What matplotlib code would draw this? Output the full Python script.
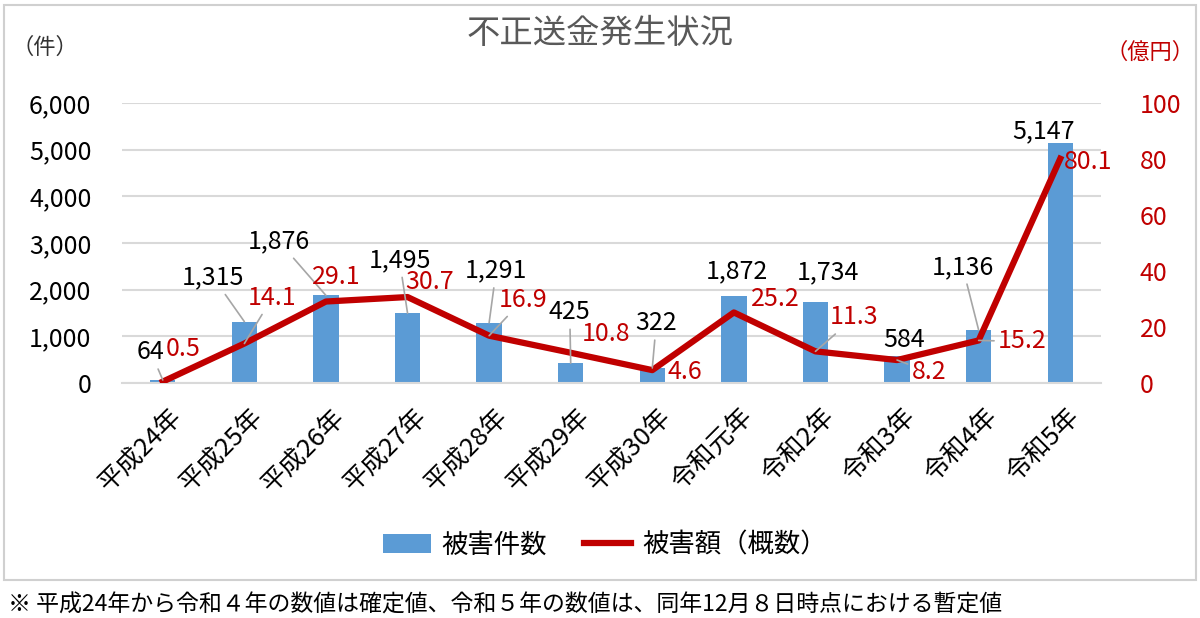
import matplotlib
matplotlib.use("Agg")
import matplotlib.pyplot as plt
from matplotlib.patches import Rectangle
from matplotlib.lines import Line2D
from matplotlib.patches import Patch
import matplotlib.transforms as mtrans

plt.rcParams['font.family'] = ['Noto Sans CJK JP', 'DejaVu Sans']

categories = ["平成24年", "平成25年", "平成26年", "平成27年", "平成28年", "平成29年",
              "平成30年", "令和元年", "令和2年", "令和3年", "令和4年", "令和5年"]
cases = [64, 1315, 1876, 1495, 1291, 425, 322, 1872, 1734, 584, 1136, 5147]
amount = [0.5, 14.1, 29.1, 30.7, 16.9, 10.8, 4.6, 25.2, 11.3, 8.2, 15.2, 80.1]
left_ticks = [0, 1000, 2000, 3000, 4000, 5000, 6000]
right_ticks = [0, 20, 40, 60, 80, 100]

# label offsets (pixels) and leader flags
case_off = [(-12, 28, True), (-31, 44, True), (-47, 54, True), (-8, 53, True), (7, 52, True),
            (-1, 51, True), (4, 45, True), (3, 24, False), (12, 30, False), (7, 16, False),
            (-16, 63, True), (-17, 12, False)]
amt_off = [(20, 33, False), (28, 46, True), (10, 25, False), (22, 15, False), (34, 36, True),
           (35, 19, False), (33, -2, False), (41, 13, False), (39, 34, True), (32, -12, True),
           (44, -1, True), (28, -3, False)]

BLUE = "#5B9BD5"
RED = "#C00000"
GRID = "#D9D9D9"

fig = plt.figure(figsize=(12, 6.18), dpi=100)
fig.patch.set_facecolor("white")

# outer border
fig.patches.append(Rectangle((4/1200, 1-580/618), 1192/1200, 575/618, transform=fig.transFigure,
                             fill=False, edgecolor="#D0D0D0", linewidth=1.5))

ax = fig.add_axes([122/1200, 1-383/618, (1101-122)/1200, (383-103)/618])
ax2 = ax.twinx()

x = list(range(len(categories)))
ax.bar(x, cases, width=0.31, color=BLUE, zorder=2)
ax.set_xlim(-0.5, len(categories)-0.5)
ax.set_ylim(0, 6000)
ax.set_yticks(left_ticks)
ax.set_yticklabels([f"{v:,}" for v in left_ticks], fontsize=18, color="black")
ax.yaxis.grid(True, color=GRID, linewidth=1.5, zorder=0)
ax.set_axisbelow(True)
for s in ["top", "left", "right"]:
    ax.spines[s].set_visible(False)
ax.spines["bottom"].set_color(GRID)
ax.spines["bottom"].set_linewidth(1.5)
ax.tick_params(axis="y", length=0, pad=22)
ax.tick_params(axis="x", length=0, pad=15)
ax.set_xticks(x)
ax.set_xticklabels(categories, rotation=45, ha="right", va="top", fontsize=18.5)
offset = mtrans.ScaledTranslation(24/100, 0, fig.dpi_scale_trans)
for lbl in ax.get_xticklabels():
    lbl.set_transform(lbl.get_transform() + offset)

ax2.plot(x, amount, color=RED, linewidth=4.5, solid_joinstyle="round", zorder=3)
ax2.set_ylim(0, 100)
ax2.set_yticks(right_ticks)
ax2.set_yticklabels([str(v) for v in right_ticks], fontsize=18, color=RED)
ax2.tick_params(axis="y", length=0, pad=28)
for s in ["top", "left", "right", "bottom"]:
    ax2.spines[s].set_visible(False)

for i, (v, (dx, dy, lead)) in enumerate(zip(cases, case_off)):
    kw = {}
    if lead:
        kw["arrowprops"] = dict(arrowstyle="-", color="#A6A6A6", lw=1.2, shrinkA=1, shrinkB=0)
    ax2.annotate(f"{v:,}", xy=(i, v/60), xytext=(dx, dy), textcoords="offset pixels",
                 ha="center", va="center", fontsize=18, color="black", zorder=5, **kw)
for i, (v, (dx, dy, lead)) in enumerate(zip(amount, amt_off)):
    kw = {}
    if lead:
        kw["arrowprops"] = dict(arrowstyle="-", color="#A6A6A6", lw=1.2, shrinkA=1, shrinkB=0)
    ax2.annotate(f"{v}", xy=(i, v), xytext=(dx, dy), textcoords="offset pixels",
                 ha="center", va="center", fontsize=18, color=RED, zorder=5, **kw)

fig.text(600/1200, 1-33/618, "不正送金発生状況", ha="center", va="center", fontsize=24, color="#595959")
fig.text(45/1200, 1-47/618, "（件）", ha="center", va="center", fontsize=16, color="#333333")
fig.text(1150/1200, 1-52/618, "（億円）", ha="center", va="center", fontsize=16, color=RED)

handles = [Patch(facecolor=BLUE, edgecolor="none"), Line2D([0], [0], color=RED, lw=4.5)]
fig.legend(handles, ["被害件数", "被害額（概数）"], loc="center", bbox_to_anchor=(605/1200, 1-545/618),
           ncol=2, frameon=False, fontsize=19, handlelength=1.8, handleheight=0.7, columnspacing=1.4,
           handletextpad=0.4)

fig.text(8/1200, 1-605/618, "※ 平成24年から令和４年の数値は確定値、令和５年の数値は、同年12月８日時点における暫定値",
         ha="left", va="center", fontsize=16.5, color="black")

fig.savefig("out.png", dpi=100, facecolor="white")
